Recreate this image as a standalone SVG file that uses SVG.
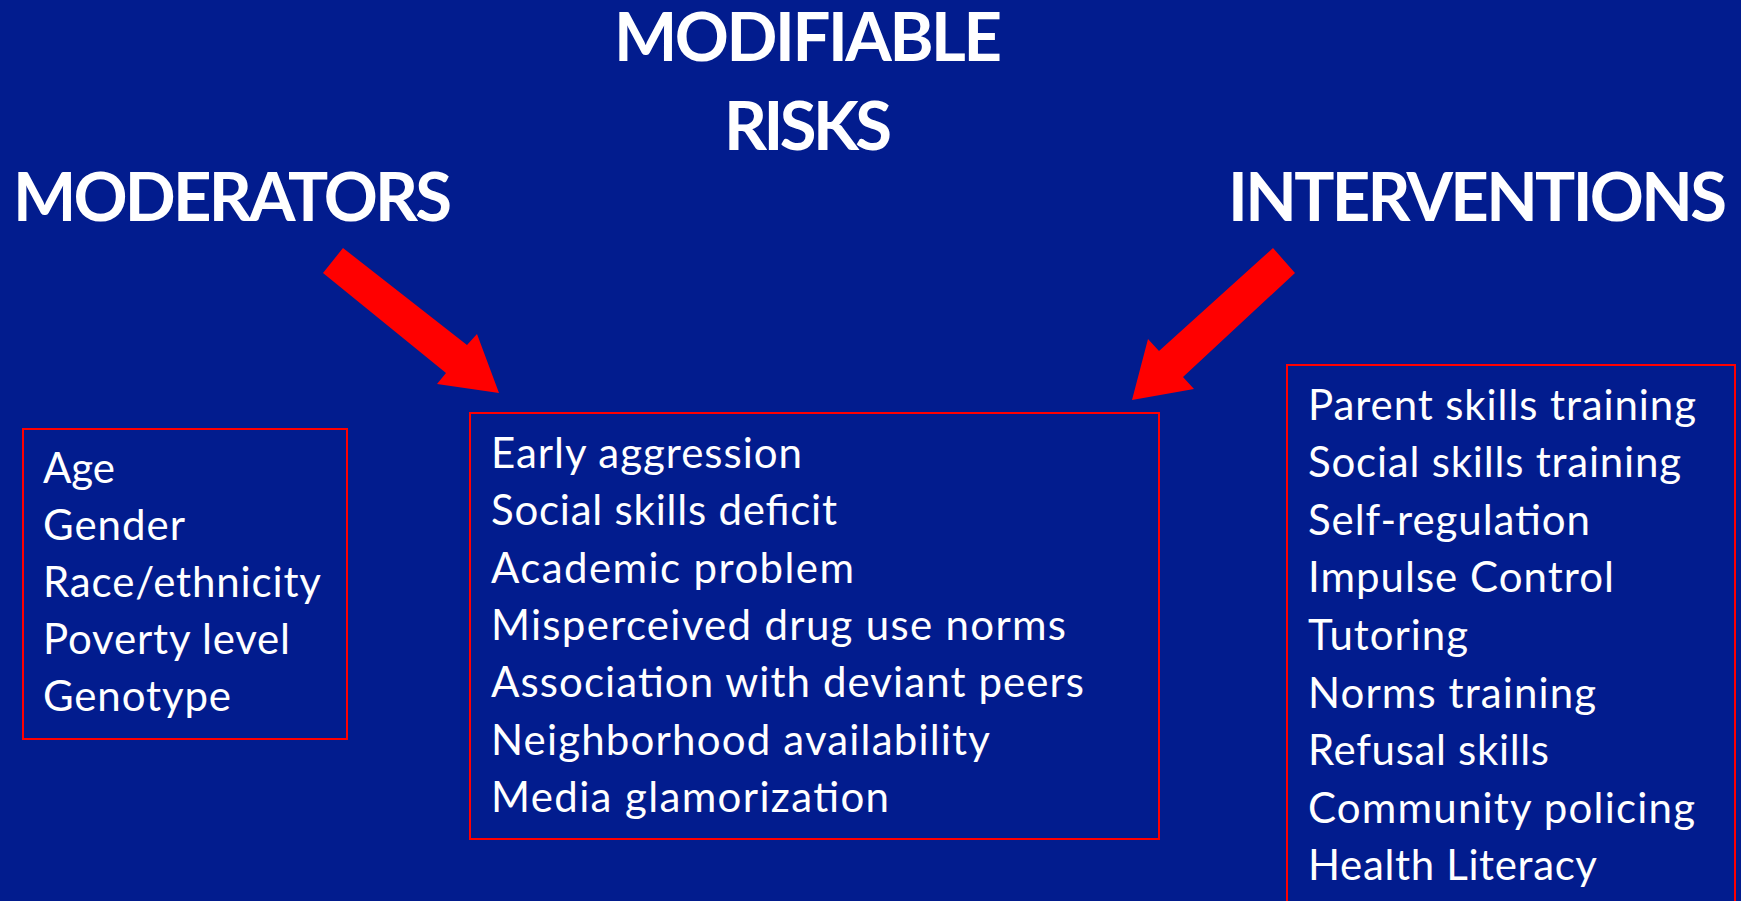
<svg xmlns="http://www.w3.org/2000/svg" width="1741" height="901" viewBox="0 0 1741 901">
<style>
.title{font-family:Lato,"Liberation Sans",sans-serif;font-weight:bold;font-size:67px;fill:#fff}
.item{font-family:Lato,"Liberation Sans",sans-serif;font-size:42px;fill:#fff}
.box{fill:none;stroke:#ff0000;stroke-width:2}
.arrow{fill:#ff0000}
</style>
<rect width="1741" height="901" fill="#021c8e"/>
<g id="title-modifiable">
<text class="title" x="614" y="61" textLength="388">MODIFIABLE</text>
<text class="title" x="724" y="150" textLength="168">RISKS</text>
</g>
<g id="title-moderators"><text class="title" x="13" y="221" textLength="439">MODERATORS</text></g>
<g id="title-interventions"><text class="title" x="1228" y="221" textLength="499">INTERVENTIONS</text></g>
<g id="connectors">
<polygon class="arrow" points="323,273 343,248 467,345 477,334 499,393 437,384 446,373"/>
<polygon class="arrow" points="1273,248 1295,273 1183,377 1194,389 1132,400 1148,339 1159,351"/>
</g>
<g id="moderators">
<rect class="box" x="23" y="429" width="324" height="310"/>
<text class="item" x="43" y="483" textLength="72">Age</text>
<text class="item" x="43" y="540" textLength="142">Gender</text>
<text class="item" x="43" y="597" textLength="278">Race/ethnicity</text>
<text class="item" x="43" y="654" textLength="247">Poverty level</text>
<text class="item" x="43" y="711" textLength="188">Genotype</text>
</g>
<g id="modifiable-risks">
<rect class="box" x="470" y="413" width="689" height="426"/>
<text class="item" x="491" y="468" textLength="311">Early aggression</text>
<text class="item" x="491" y="525" textLength="346">Social skills deficit</text>
<text class="item" x="491" y="583" textLength="363">Academic problem</text>
<text class="item" x="491" y="640" textLength="575">Misperceived drug use norms</text>
<text class="item" x="491" y="697" textLength="593">Association with deviant peers</text>
<text class="item" x="491" y="755" textLength="499">Neighborhood availability</text>
<text class="item" x="491" y="812" textLength="398">Media glamorization</text>
</g>
<g id="interventions">
<rect class="box" x="1287" y="365" width="448" height="560"/>
<text class="item" x="1308" y="420" textLength="388">Parent skills training</text>
<text class="item" x="1308" y="477" textLength="373">Social skills training</text>
<text class="item" x="1308" y="535" textLength="282">Self-regulation</text>
<text class="item" x="1308" y="592" textLength="306">Impulse Control</text>
<text class="item" x="1308" y="650" textLength="160">Tutoring</text>
<text class="item" x="1308" y="708" textLength="288">Norms training</text>
<text class="item" x="1308" y="765" textLength="241">Refusal skills</text>
<text class="item" x="1308" y="823" textLength="387">Community policing</text>
<text class="item" x="1308" y="880" textLength="289">Health Literacy</text>
</g>
</svg>
